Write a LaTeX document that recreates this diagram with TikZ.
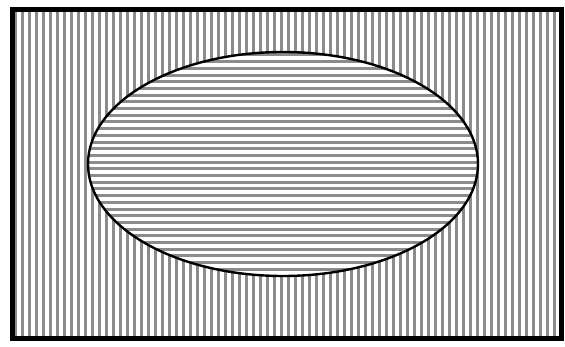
\documentclass[tikz,border=0pt]{standalone}
\tikzset{
  frame/.style={draw=black, line width=5pt},
  hatch/.style={draw=black!45, line width=3pt},
  rim/.style={draw=black, line width=2.4pt},
}
\begin{document}
\begin{tikzpicture}[x=1pt,y=-1pt]
  \useasboundingbox (0,0) rectangle (565,347);
  % vertical stripes filling the box
  \begin{scope}
    \clip (12,10) rectangle (561,339);
    \foreach \x in {15,22,...,561}
      \draw[hatch] (\x,10) -- (\x,339);
  \end{scope}
  % the ellipse, blanked and then striped across
  \fill[white] (283,164) ellipse [x radius=195, y radius=112];
  \begin{scope}
    \clip (283,164) ellipse [x radius=195, y radius=112];
    \foreach \y in {55,61.7,...,277}
      \draw[hatch] (88,\y) -- (478,\y);
  \end{scope}
  \draw[rim] (283,164) ellipse [x radius=195, y radius=112];
  \draw[frame] (12,10) rectangle (561,339);
\end{tikzpicture}
\end{document}
